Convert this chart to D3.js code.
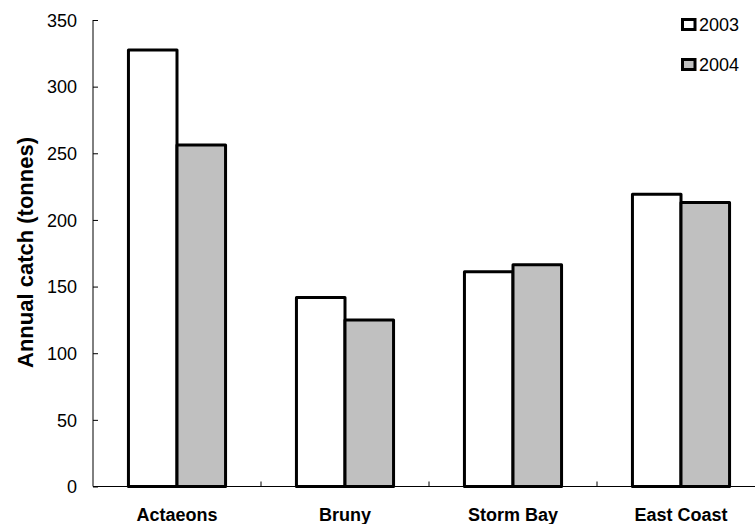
<!DOCTYPE html>
<html><head><meta charset="utf-8">
<script src="https://cdn.jsdelivr.net/npm/d3@7"></script>
<style>body{margin:0;background:#fff}svg{display:block}text{font-family:Arial,"Liberation Sans",sans-serif}</style>
</head><body>
<svg id="c" width="755" height="524"></svg>
<script>
const categories = ["Actaeons","Bruny","Storm Bay","East Coast"];
const seriesNames = ["2003","2004"];
const values2003 = [327.5, 141.8, 161.2, 219.3];
const values2004 = [256.3, 124.9, 166.3, 213.1];
const yTicks = [0,50,100,150,200,250,300,350];
const fills = ["#ffffff","#c0c0c0"];

const svg = d3.select("#c");
const x0 = 93, x1 = 765, yTop = 20, yBot = 486.5;
const x = d3.scaleBand().domain(categories).range([x0,x1]).paddingInner(0).paddingOuter(0);
const xs = d3.scaleBand().domain(seriesNames).range([0, x.bandwidth()]).paddingInner(0).paddingOuter(0.73);
const y = d3.scaleLinear().domain([0,350]).range([yBot,yTop]);
const series = [values2003, values2004];

// bars
const g = svg.append("g");
categories.forEach((c,i)=>{
  seriesNames.forEach((s,j)=>{
    const v = series[j][i];
    g.append("rect")
      .attr("x", x(c)+xs(s))
      .attr("y", y(v))
      .attr("width", xs.bandwidth())
      .attr("height", y(0)-y(v))
      .attr("fill", fills[j])
      .attr("stroke","#000").attr("stroke-width",3).attr("stroke-linejoin","round");
  });
});

// y axis
const ya = svg.append("g").attr("transform",`translate(${x0},0)`)
  .call(d3.axisRight(y).tickValues(yTicks).tickSize(5).tickFormat(d3.format("d")));
ya.select(".domain").attr("stroke","#000").attr("d",`M0,${yTop}V${yBot}`);
ya.selectAll(".tick line").attr("stroke","#000");
ya.selectAll(".tick text").attr("x",-16).attr("text-anchor","end").attr("font-size",18).attr("fill","#000").attr("dy","0.35em");

// x axis
const xa = svg.append("g").attr("transform",`translate(0,${yBot})`);
xa.append("line").attr("x1",x0).attr("x2",x1).attr("stroke","#000");
categories.slice(1).forEach(c=>{
  xa.append("line").attr("x1",x(c)).attr("x2",x(c)).attr("y1",0).attr("y2",-5).attr("stroke","#000");
});
categories.forEach(c=>{
  xa.append("text").attr("x",x(c)+x.bandwidth()/2).attr("y",34.5)
    .attr("text-anchor","middle").attr("font-size",18).attr("font-weight","bold").text(c);
});

// y title
svg.append("text").attr("transform",`translate(33,252.5) rotate(-90)`)
  .attr("text-anchor","middle").attr("font-size",22).attr("font-weight","bold").text("Annual catch (tonnes)");

// legend
seriesNames.forEach((s,j)=>{
  const ly = 24.5 + j*40;
  svg.append("rect").attr("x",682.5).attr("y",ly-5).attr("width",12.5).attr("height",10)
    .attr("fill",fills[j]).attr("stroke","#000").attr("stroke-width",3);
  svg.append("text").attr("x",699).attr("y",ly).attr("dy","0.35em").attr("font-size",18).text(s);
});
</script>
</body></html>
